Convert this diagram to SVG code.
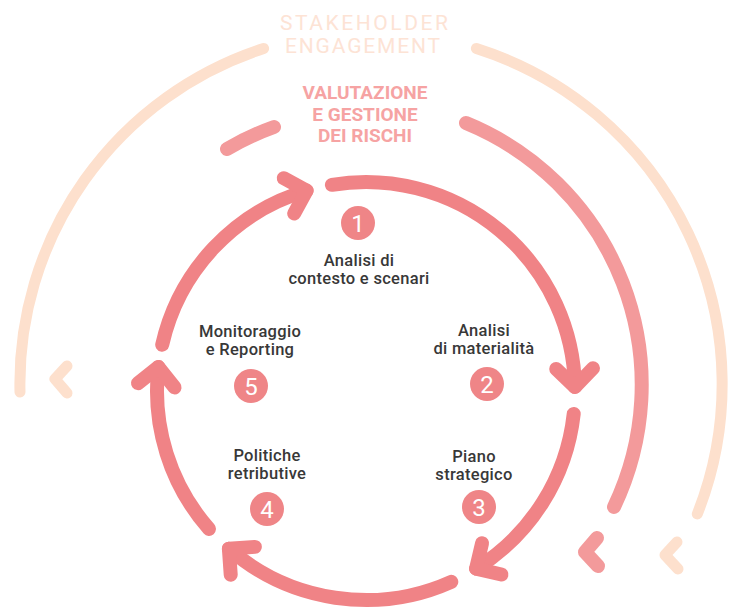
<svg xmlns="http://www.w3.org/2000/svg" width="729" height="608" viewBox="0 0 729 608">
<style>
.inner{fill:none;stroke:#f08386;stroke-width:14;stroke-linecap:round;stroke-linejoin:round}
.mid{fill:none;stroke:#f39a9b;stroke-width:14;stroke-linecap:round;stroke-linejoin:round}
.outer{fill:none;stroke:#fde0cd;stroke-width:11;stroke-linecap:round;stroke-linejoin:round}
.lbl{font-family:Roboto,"Liberation Sans",sans-serif;font-size:16.5px;letter-spacing:0.3px;font-weight:500;fill:#383838;text-anchor:middle}
.num circle{fill:#ef8587}
.num text{font-family:Roboto,"Liberation Sans",sans-serif;font-size:24px;fill:#ffffff;text-anchor:middle}
.risk{font-family:Roboto,"Liberation Sans",sans-serif;font-size:19px;font-weight:700;fill:#f6a3a3;text-anchor:middle}
.stake{font-family:Roboto,"Liberation Sans",sans-serif;font-size:21px;fill:#fde3d5}
</style>
<rect width="729" height="608" fill="#ffffff"/>
<g id="connectors">
  <g id="outer-ring">
    <path class="outer" d="M263.6,48.5 A352,352 0 0 0 20,392"/>
    <path class="outer" d="M476.4,48.5 A352,352 0 0 1 697.3,514"/>
    <polyline class="outer" points="67,366 55,379 67,393"/>
    <polyline class="outer" points="677,542 665,555 678,569"/>
  </g>
  <g id="middle-ring">
    <path class="mid" d="M227,149 A283,283 0 0 1 274,127"/>
    <path class="mid" d="M466,123 A283,283 0 0 1 614,507"/>
    <polyline class="mid" points="597,538 585,552 598,566"/>
  </g>
  <g id="cycle">
    <path class="inner" d="M331.9,184.8 A209,209 0 0 1 574.96,386.99"/>
    <polyline class="inner" points="-18.4,-18.4 0,0 -18.4,18.4" transform="translate(574.96,386.99) rotate(88.9)"/>
    <path class="inner" d="M573.7,413.9 A209,209 0 0 1 476.1,568.6"/>
    <polyline class="inner" points="-18.4,-18.4 0,0 -18.4,18.4" transform="translate(476.1,568.6) rotate(148.2)"/>
    <path class="inner" d="M451.3,581.8 A209,209 0 0 1 228.9,548.7"/>
    <polyline class="inner" points="-18.4,-18.4 0,0 -18.4,18.4" transform="translate(228.9,548.7) rotate(221)"/>
    <path class="inner" d="M208.98,528.9 A209,209 0 0 1 158.4,367"/>
    <polyline class="inner" points="-18.4,-18.4 0,0 -18.4,18.4" transform="translate(158.4,367) rotate(276.6)"/>
    <path class="inner" d="M162.2,344.7 A209,209 0 0 1 306.6,190.6"/>
    <polyline class="inner" points="-18.4,-18.4 0,0 -18.4,18.4" transform="translate(306.6,190.6) rotate(343.5)"/>
  </g>
</g>
<g id="stakeholder-engagement">
  <text class="stake" x="280" y="30" textLength="168" lengthAdjust="spacing">STAKEHOLDER</text>
  <text class="stake" x="285" y="53" textLength="155" lengthAdjust="spacing">ENGAGEMENT</text>
</g>
<g id="valutazione-rischi">
  <text class="risk" x="365" y="99">VALUTAZIONE</text>
  <text class="risk" x="365" y="120.5">E GESTIONE</text>
  <text class="risk" x="365" y="142">DEI RISCHI</text>
</g>
<g id="step1">
  <g class="num"><circle cx="358" cy="223" r="17"/><text x="358" y="231.5">1</text></g>
  <text class="lbl" x="359" y="266">Analisi di</text>
  <text class="lbl" x="359" y="284">contesto e scenari</text>
</g>
<g id="step2">
  <g class="num"><circle cx="487" cy="384" r="17"/><text x="487" y="392.5">2</text></g>
  <text class="lbl" x="484" y="336">Analisi</text>
  <text class="lbl" x="484" y="354">di materialità</text>
</g>
<g id="step3">
  <g class="num"><circle cx="479" cy="507" r="17"/><text x="479" y="515.5">3</text></g>
  <text class="lbl" x="474" y="462">Piano</text>
  <text class="lbl" x="474" y="480">strategico</text>
</g>
<g id="step4">
  <g class="num"><circle cx="267" cy="509" r="17"/><text x="267" y="517.5">4</text></g>
  <text class="lbl" x="267" y="461">Politiche</text>
  <text class="lbl" x="267" y="479">retributive</text>
</g>
<g id="step5">
  <g class="num"><circle cx="251" cy="386" r="17"/><text x="251" y="394.5">5</text></g>
  <text class="lbl" x="250" y="337">Monitoraggio</text>
  <text class="lbl" x="250" y="355">e Reporting</text>
</g>
</svg>
